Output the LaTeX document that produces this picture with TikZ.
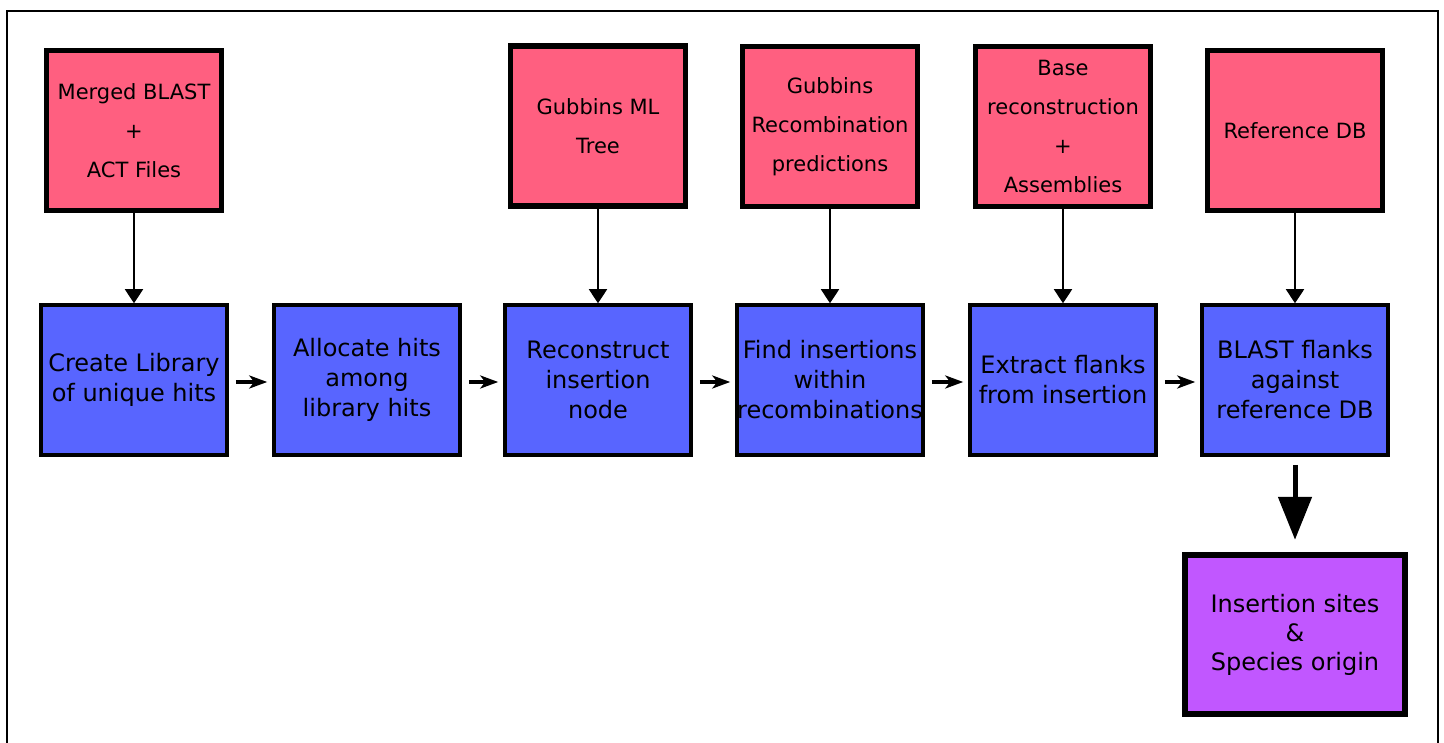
\documentclass[tikz,border=0pt]{standalone}
\usepackage{fontspec}
\setmainfont{DejaVu Sans}
\usetikzlibrary{arrows.meta}
\definecolor{inpink}{HTML}{FF5F80}
\definecolor{stepblue}{HTML}{5865FF}
\definecolor{outpurple}{HTML}{C157FF}
\begin{document}
\begin{tikzpicture}[x=1pt,y=-1pt,
  inbox/.style={draw=black, fill=inpink, line width=5.5pt, minimum width=175pt, minimum height=160pt, inner sep=0pt, align=center, font=\fontsize{21}{39}\selectfont},
  stepbox/.style={draw=black, fill=stepblue, line width=3.5pt, minimum width=186pt, minimum height=150pt, inner sep=0pt, align=center, font=\fontsize{24}{30}\selectfont},
  outbox/.style={draw=black, fill=outpurple, line width=6.5pt, minimum width=220pt, minimum height=159pt, inner sep=0pt, align=center, font=\fontsize{24}{29}\selectfont},
  feed/.style={line width=1.8pt, -{Triangle[width=18pt,length=14pt]}},
  flow/.style={line width=4.5pt, -{Stealth[width=13pt,length=18pt,inset=5pt]}, shorten <=7pt, shorten >=5pt},
  result/.style={line width=5pt, -{Triangle[width=33pt,length=43pt]}, shorten <=8pt, shorten >=12pt}
]
\useasboundingbox (0,0) rectangle (1444,743);
\draw[line width=1.3pt] (7,743) -- (7,11) -- (1438,11) -- (1438,743);

\node[inbox] (p1) at (134,130.5) {Merged BLAST\\+\\ACT Files};
\node[inbox] (p2) at (598,126) {Gubbins ML\\Tree};
\node[inbox] (p3) at (830,126.5) {Gubbins\\Recombination\\predictions};
\node[inbox] (p4) at (1063,126.5) {Base\\reconstruction\\+\\Assemblies};
\node[inbox] (p5) at (1295,130.5) {Reference DB};

\node[stepbox] (b1) at (134,380) {Create Library\\of unique hits};
\node[stepbox] (b2) at (367,380) {Allocate hits\\among\\library hits};
\node[stepbox] (b3) at (598,380) {Reconstruct\\insertion\\node};
\node[stepbox] (b4) at (830,380) {Find insertions\\within\\recombinations};
\node[stepbox] (b5) at (1063,380) {Extract flanks\\from insertion};
\node[stepbox] (b6) at (1295,380) {BLAST flanks\\against\\reference DB};

\node[outbox] (o1) at (1295,634.5) {Insertion sites\\\&\\Species origin};

\draw[feed] (p1) -- (b1.north);
\draw[feed] (p2) -- (b3.north);
\draw[feed] (p3) -- (b4.north);
\draw[feed] (p4) -- (b5.north);
\draw[feed] (p5) -- (b6.north);

\draw[flow] ([yshift=-2pt]b1.east) -- ([yshift=-2pt]b2.west);
\draw[flow] ([yshift=-2pt]b2.east) -- ([yshift=-2pt]b3.west);
\draw[flow] ([yshift=-2pt]b3.east) -- ([yshift=-2pt]b4.west);
\draw[flow] ([yshift=-2pt]b4.east) -- ([yshift=-2pt]b5.west);
\draw[flow] ([yshift=-2pt]b5.east) -- ([yshift=-2pt]b6.west);
\draw[result] (b6) -- (o1);
\end{tikzpicture}
\end{document}
